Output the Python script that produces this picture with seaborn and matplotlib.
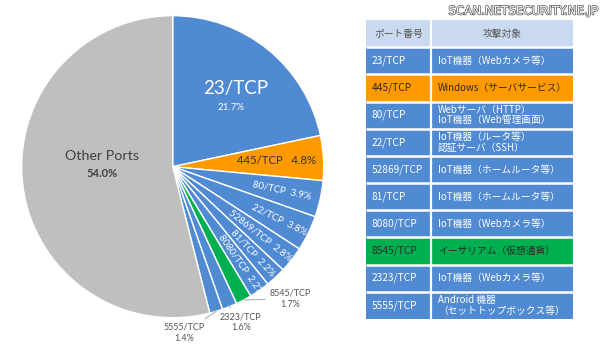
import numpy as np
import pandas as pd
import matplotlib
matplotlib.use("Agg")
import matplotlib.pyplot as plt
import matplotlib.patheffects as pe
from matplotlib.colors import ListedColormap
import seaborn as sns

# ---------------- data ----------------
ports = ["23/TCP", "445/TCP", "80/TCP", "22/TCP", "52869/TCP", "81/TCP",
         "8080/TCP", "8545/TCP", "2323/TCP", "5555/TCP", "Other Ports"]
shares = [21.7, 4.8, 3.9, 3.8, 2.8, 2.2, 2.2, 1.7, 1.6, 1.4, 54.0]

table_header = ["ポート番号", "攻撃対象"]
table_ports = ["23/TCP", "445/TCP", "80/TCP", "22/TCP", "52869/TCP", "81/TCP",
               "8080/TCP", "8545/TCP", "2323/TCP", "5555/TCP"]
table_targets = ["IoT機器（Webカメラ等）",
                 "Windows（サーバサービス）",
                 "Webサーバ（HTTP）\nIoT機器（Web管理画面）",
                 "IoT機器（ルータ等）\n認証サーバ（SSH）",
                 "IoT機器（ホームルータ等）",
                 "IoT機器（ホームルータ等）",
                 "IoT機器（Webカメラ等）",
                 "イーサリアム（仮想通貨）",
                 "IoT機器（Webカメラ等）",
                 "Android 機器\n（セットトップボックス等）"]
watermark = "SCAN.NETSECURITY.NE.JP"

# ---------------- style ----------------
BLUE = "#4F8AD2"
ORANGE = "#FF9900"
GREEN = "#00B050"
GRAY = "#BFBFBF"
HEADER = "#C9DAF0"
special = {"445/TCP": ORANGE, "8545/TCP": GREEN, "Other Ports": GRAY}

sns.set_theme(style="white")
plt.rcParams["font.family"] = ["Lato", "DejaVu Sans"]

W, H = 600, 348
fig = plt.figure(figsize=(6.0, 3.48), dpi=100)

# ---------------- pie ----------------
cx, cy, r = 172.7, 166.7, 151.0
pax = fig.add_axes([(cx - r) / W, (H - cy - r) / H, 2 * r / W, 2 * r / H])
colors = [special.get(p, BLUE) for p in ports]
wedges, _ = pax.pie(shares, colors=colors, startangle=90, counterclock=False,
                    radius=1.0, wedgeprops=dict(edgecolor="white", linewidth=1.0))
pax.set_xlim(-1, 1)
pax.set_ylim(-1, 1)
pax.axis("off")

mids = [np.deg2rad((w.theta1 + w.theta2) / 2) for w in wedges]
pcts = [f"{s:.1f}%" for s in shares]

def polar(i, rr):
    return rr * np.cos(mids[i]), rr * np.sin(mids[i])

# 23/TCP big label
x, y = polar(0, 0.665)
pax.text(x, y, ports[0], color="white", fontsize=13.5, ha="center", va="center")
pax.text(x - 0.03, y - 0.125, pcts[0], color="white", fontsize=7, ha="center", va="center")

# 445/TCP
x, y = polar(1, 0.69)
pax.text(x, y, f"{ports[1]}   {pcts[1]}", color="#333333", fontsize=8.2,
         ha="center", va="center")

# rotated inner labels
inner_r = {2: 0.74, 3: 0.79, 4: 0.74, 5: 0.78, 6: 0.79}
for i, rr in inner_r.items():
    x, y = polar(i, rr)
    pax.text(x, y, f"{ports[i]}  {pcts[i]}", color="white", fontsize=7,
             ha="center", va="center", rotation=np.rad2deg(mids[i]),
             rotation_mode="anchor")

# outside labels with leader lines
outside_pos = {7: (0.78, -0.875), 8: (0.45, -1.03), 9: (0.075, -1.10)}
for i, (tx, ty) in outside_pos.items():
    ex, ey = polar(i, 1.0)
    pax.annotate(f"{ports[i]}\n{pcts[i]}", xy=(ex, ey), xytext=(tx, ty),
                 ha="center", va="center", fontsize=6.5, color="#555555",
                 linespacing=1.3, annotation_clip=False,
                 arrowprops=dict(arrowstyle="-", color="#A6A6A6", lw=0.7,
                                 shrinkA=1, shrinkB=0))

# Other Ports
ox = -0.47
pax.text(ox, 0.074, ports[10], color="#404040", fontsize=10.3, ha="center", va="center")
pax.text(ox, -0.048, pcts[10], color="#404040", fontsize=8, ha="center",
         va="center", fontweight="bold")

# ---------------- table (seaborn heatmap) ----------------
tl, tr, tt, tb = 366, 573, 20, 319
tax = fig.add_axes([tl / W, (H - tb) / H, (tr - tl) / W, (tb - tt) / H])
n_port_cols, n_target_cols = 5, 11
ncols = n_port_cols + n_target_cols
code_of = {ORANGE: 2, GREEN: 3}
codes = [[0] * ncols]
for p in table_ports:
    codes.append([code_of.get(special.get(p, BLUE), 1)] * ncols)
grid = pd.DataFrame(codes)
cmap = ListedColormap([HEADER, BLUE, ORANGE, GREEN])
sns.heatmap(grid, ax=tax, cmap=cmap, vmin=-0.5, vmax=3.5, cbar=False,
            linewidths=0, xticklabels=False, yticklabels=False, rasterized=True)
nrows = len(codes)
tax.hlines(np.arange(1, nrows), 0, ncols, color="white", lw=1.8)
tax.vlines(n_port_cols, 0, nrows, color="white", lw=1.6)
for s in tax.spines.values():
    s.set_visible(False)

jp = ["Noto Sans CJK JP", "DejaVu Sans"]
tax.text(n_port_cols / 2, 0.5, table_header[0], ha="center", va="center",
         fontsize=7, color="#555555", family=jp)
tax.text(n_port_cols + n_target_cols / 2, 0.5, table_header[1], ha="center",
         va="center", fontsize=7, color="#555555", family=jp)
for k, (p, t) in enumerate(zip(table_ports, table_targets)):
    row = k + 1
    tc = "white" if special.get(p, BLUE) == BLUE else "#2a2a2a"
    tax.text(0.45, row + 0.5, p, ha="left", va="center", fontsize=7.3,
             color=tc, family=jp)
    tax.text(n_port_cols + 0.55, row + 0.5, t, ha="left", va="center",
             fontsize=7.0, color=tc, family=jp, linespacing=1.05)

# ---------------- watermark ----------------
fig.text(0.995, 1 - 11 / H, watermark, ha="right", va="center", fontsize=8.5,
         color="white", family=["DejaVu Sans"],
         path_effects=[pe.Stroke(linewidth=1.0, foreground="#555555"), pe.Normal()])

fig.savefig("out.png", dpi=100, facecolor="white")
